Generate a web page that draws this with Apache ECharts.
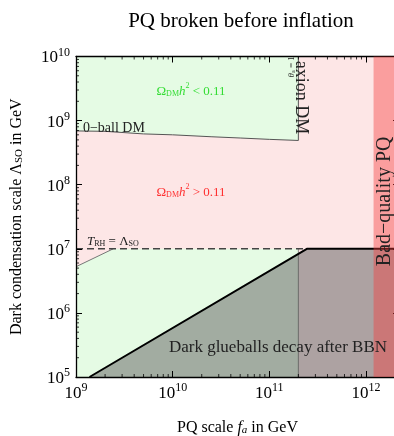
<!DOCTYPE html>
<html>
<head>
<meta charset="utf-8">
<script src="https://cdn.jsdelivr.net/npm/echarts@6/dist/echarts.min.js"></script>
<style>
  html, body { margin: 0; padding: 0; background: #fff; }
  #main { width: 394px; height: 436px; }
</style>
</head>
<body>
<div id="main"></div>
<script>
// axis ranges (GeV)
var xMin = 1e9, xMax = 2.2e12;
var yMin = 1e5, yMax = 1e10;

// Q-ball dark matter boundary, Omega h^2 = 0.11
var qballX = [1e9, 2e9, 5e9, 1e10, 2.5e10, 5e10, 1e11, 2e11];
var qballY = [6.9e8, 6.8e8, 6.2e8, 6.0e8, 5.6e8, 5.35e8, 5.1e8, 4.9e8];
// axion DM with theta_a = 1
var axionFa = 2e11;
// T_RH = Lambda_SO
var trhScale = 1e7;
var trhKinkX = [1e9, 2.43e9];
var trhKinkY = [5.25e6, 1e7];
// dark glueballs decay after BBN
var bbnX = [1.38e9, 2.45e11, xMax];
var bbnY = [1e5, 1e7, 1e7];
// bad quality PQ
var badQualityFa = 1.2e12;

var serif = 'Liberation Serif';

function pts(xs, ys) {
  return xs.map(function (x, i) { return [x, ys[i]]; });
}

function polygonSeries(points, color, z) {
  return {
    type: 'custom',
    coordinateSystem: 'cartesian2d',
    silent: true,
    z: z,
    data: points,
    renderItem: function (params, api) {
      if (params.dataIndex !== 0) return;
      return {
        type: 'polygon',
        shape: { points: points.map(function (p) { return api.coord(p); }) },
        style: { fill: color }
      };
    }
  };
}

function lineSeries(points, color, width, type, z) {
  return {
    type: 'line',
    data: points,
    symbol: 'none',
    silent: true,
    z: z,
    lineStyle: { color: color, width: width, type: type || 'solid' }
  };
}

// minor ticks 2..9 in each decade
function minorValues(lo, hi) {
  var out = [];
  for (var d = Math.floor(Math.log10(lo)); d <= Math.ceil(Math.log10(hi)); d++) {
    for (var m = 2; m <= 9; m++) {
      var v = m * Math.pow(10, d);
      if (v > lo && v < hi) out.push(v);
    }
  }
  return out;
}

function minorTickSeries(values, horizontal) {
  return {
    type: 'custom',
    coordinateSystem: 'cartesian2d',
    silent: true,
    z: 5,
    data: values.map(function (v) { return horizontal ? [v, yMin] : [xMin, v]; }),
    renderItem: function (params, api) {
      var v = values[params.dataIndex];
      var a, b, s = { stroke: '#000', lineWidth: 0.8 };
      if (horizontal) {
        a = api.coord([v, yMin]); b = api.coord([v, yMax]);
        return { type: 'group', children: [
          { type: 'line', shape: { x1: a[0], y1: a[1], x2: a[0], y2: a[1] - 3 }, style: s },
          { type: 'line', shape: { x1: b[0], y1: b[1], x2: b[0], y2: b[1] + 3 }, style: s }
        ] };
      }
      a = api.coord([xMin, v]); b = api.coord([xMax, v]);
      return { type: 'group', children: [
        { type: 'line', shape: { x1: a[0], y1: a[1], x2: a[0] + 3, y2: a[1] }, style: s },
        { type: 'line', shape: { x1: b[0], y1: b[1], x2: b[0] - 3, y2: b[1] }, style: s }
      ] };
    }
  };
}

// annotations: [x, y, text, size, color, rotation, align]
var notes = [
  [1.18e9, 7.9e8, '{t|0\u2212ball DM}', 14, '#222', 0, 'left'],
  [1.55e10, 3e9, '{t|\u03A9}{sub|DM}{i|h}{sup|2}{t| < 0.11}', 13, '#33dd33', 0, 'center'],
  [1.55e10, 7.9e7, '{t|\u03A9}{sub|DM}{i|h}{sup|2}{t| > 0.11}', 13, '#ff3030', 0, 'center'],
  [1.3e9, 1.38e7, '{i|T}{sub|RH}{t| = \u039B}{sub|SO}', 13, '#222', 0, 'left'],
  [1.23e11, 3.0e5, '{t|Dark glueballs decay after BBN}', 17, '#222', 0, 'center'],
  [2.2e11, 2.3e9, '{t|axion DM}', 18, '#222', -Math.PI / 2, 'center'],
  [1.64e11, 6.9e9, '{i|\u03B8}{sub|a}{t| = 1}', 9, '#222', Math.PI / 2, 'center'],
  [1.5e12, 5.5e7, '{t|Bad\u2212quality PQ}', 20, '#222', Math.PI / 2, 'center']
];

var noteSeries = {
  type: 'custom',
  coordinateSystem: 'cartesian2d',
  silent: true,
  z: 7,
  data: notes.map(function (n) { return [n[0], n[1]]; }),
  renderItem: function (params, api) {
    var n = notes[params.dataIndex];
    var p = api.coord([n[0], n[1]]);
    var size = n[3];
    var small = Math.round(size * 0.62);
    var r = {
      t: { fontFamily: serif, fontSize: size, lineHeight: size + 3, verticalAlign: 'bottom', fill: n[4] },
      i: { fontFamily: serif, fontSize: size, fontStyle: 'italic', lineHeight: size + 3, verticalAlign: 'bottom', fill: n[4] },
      sub: { fontFamily: serif, fontSize: small, lineHeight: small + 1, verticalAlign: 'bottom', fill: n[4] },
      sup: { fontFamily: serif, fontSize: small, lineHeight: small + 2, verticalAlign: 'top', fill: n[4] }
    };
    return {
      type: 'text',
      x: p[0], y: p[1],
      rotation: n[5],
      style: {
        text: n[2], rich: r, fill: n[4],
        fontFamily: serif, fontSize: size,
        align: n[6], verticalAlign: 'middle'
      }
    };
  }
};

function expLabel(v) {
  var e = Math.log10(v);
  if (Math.abs(e - Math.round(e)) > 1e-6) return '';
  return '{b|10}{s|' + Math.round(e) + '}';
}

var tickRich = {
  b: { fontFamily: serif, fontSize: 17, lineHeight: 20, verticalAlign: 'bottom', color: '#000' },
  s: { fontFamily: serif, fontSize: 12, lineHeight: 14, verticalAlign: 'top', color: '#000' }
};

var axisLine = { show: true, lineStyle: { color: '#000', width: 1.3 } };
var axisTick = { show: true, inside: true, length: 6, lineStyle: { color: '#000', width: 1 } };

var chart = echarts.init(document.getElementById('main'), null, { renderer: 'canvas' });

var option = {
  animation: false,
  title: {
    text: 'PQ broken before inflation',
    left: 236, top: 6, textAlign: 'center',
    textStyle: { fontFamily: serif, fontSize: 21, fontWeight: 'normal', color: '#000' }
  },
  grid: {
    left: 76, top: 56.5, bottom: 59, right: -5,
    outerBoundsMode: 'none', containLabel: false,
    show: true, backgroundColor: '#fde6e6', borderWidth: 0
  },
  xAxis: [{
    type: 'log', logBase: 10, min: xMin, max: xMax, position: 'bottom', z: 4,
    axisLine: axisLine, axisTick: axisTick, splitLine: { show: false },
    axisLabel: { formatter: expLabel, rich: tickRich, margin: 5 },
    name: '{t|PQ scale }{i|f}{s|a}{t| in GeV}', nameLocation: 'middle', nameGap: 41,
    nameTextStyle: { rich: {
      t: { fontFamily: serif, fontSize: 16, lineHeight: 18, verticalAlign: 'bottom', color: '#000' },
      i: { fontFamily: serif, fontSize: 16, fontStyle: 'italic', lineHeight: 18, verticalAlign: 'bottom', color: '#000' },
      s: { fontFamily: serif, fontSize: 11, fontStyle: 'italic', lineHeight: 12, verticalAlign: 'bottom', color: '#000' }
    } }
  }, {
    type: 'log', logBase: 10, min: xMin, max: xMax, position: 'top', z: 4,
    axisLine: axisLine, axisTick: axisTick, splitLine: { show: false },
    axisLabel: { show: false }
  }],
  yAxis: [{
    type: 'log', logBase: 10, min: yMin, max: yMax, position: 'left', z: 4,
    axisLine: axisLine, axisTick: axisTick, splitLine: { show: false },
    axisLabel: { formatter: expLabel, rich: tickRich, margin: 6 },
    name: '{t|Dark condensation scale \u039B}{s|SO}{t| in GeV}', nameLocation: 'middle', nameGap: 51,
    nameTextStyle: { rich: {
      t: { fontFamily: serif, fontSize: 16, lineHeight: 18, verticalAlign: 'bottom', color: '#000' },
      s: { fontFamily: serif, fontSize: 11, lineHeight: 12, verticalAlign: 'bottom', color: '#000' }
    } }
  }, {
    type: 'log', logBase: 10, min: yMin, max: yMax, position: 'right', z: 4,
    axisLine: axisLine, axisTick: axisTick, splitLine: { show: false },
    axisLabel: { show: false }
  }],
  series: [
    // Omega h^2 < 0.11 regions
    polygonSeries(pts(qballX.concat([axionFa, xMin]), qballY.concat([yMax, yMax])), '#e5fbe4', 1),
    polygonSeries(pts([xMin, axionFa, axionFa].concat(trhKinkX.slice().reverse()),
                      [yMin, yMin, trhScale].concat(trhKinkY.slice().reverse())), '#e5fbe4', 1),
    // glueballs decay after BBN
    polygonSeries(pts(bbnX.concat([xMax]), bbnY.concat([yMin])), 'rgba(100,100,100,0.52)', 2),
    lineSeries(pts(qballX, qballY), '#555', 1, 'solid', 3),
    lineSeries(pts([axionFa, axionFa], [qballY[qballY.length - 1], yMax]), '#555', 1, 'solid', 3),
    lineSeries(pts([axionFa, axionFa], [yMin, trhScale]), 'rgba(70,70,70,0.6)', 1, 'solid', 3),
    lineSeries(pts(trhKinkX, trhKinkY), '#777', 1, 'solid', 3),
    lineSeries(pts([xMin, bbnX[1]], [trhScale, trhScale]), '#444', 1.4, [7, 4], 3),
    lineSeries(pts(bbnX, bbnY), '#000', 2, 'solid', 3),
    minorTickSeries(minorValues(xMin, xMax), true),
    minorTickSeries(minorValues(yMin, yMax), false),
    // bad quality PQ band
    polygonSeries(pts([badQualityFa, xMax, xMax, badQualityFa], [yMin, yMin, yMax, yMax]), 'rgba(246,60,60,0.42)', 6),
    noteSeries
  ]
};

chart.setOption(option);
window.addEventListener('resize', chart.resize);
</script>
</body>
</html>
